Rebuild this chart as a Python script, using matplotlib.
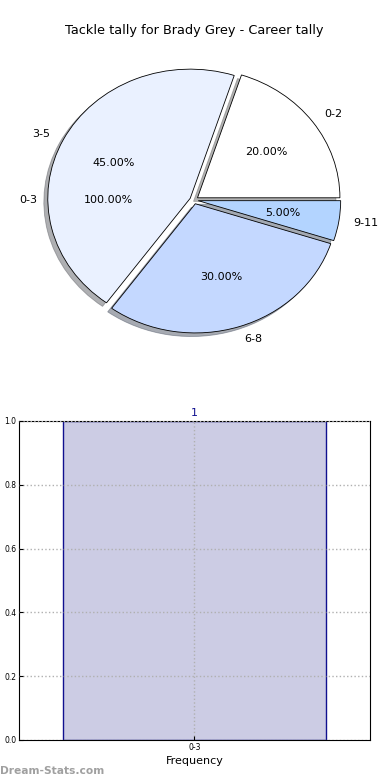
import matplotlib
matplotlib.use("Agg")
import matplotlib.pyplot as plt

# 円グラフ（通算タックル数の内訳）
pie_labels = ["0-2", "3-5", "6-8", "9-11"]
pie_values = [20, 45, 30, 5]
pie_colors = ["#ffffff", "#eaf1ff", "#c4d8ff", "#b3d4ff"]

# 重ねて描かれている単一スライスの円
overlay_labels = ["0-3"]
overlay_values = [1]

# 棒グラフ（頻度）
bar_labels = ["0-3"]
bar_values = [1]

title = "Tackle tally for Brady Grey - Career tally"

fig = plt.figure(figsize=(3.9, 7.8), dpi=100)

ax_pie = fig.add_axes([0.041, 0.5365, 0.913, 0.414])
ax_pie.pie(pie_values, labels=pie_labels, colors=pie_colors,
           explode=[0.03] * len(pie_values), autopct="%1.2f%%",
           shadow=dict(ox=-0.02, oy=-0.02, shade=0.6), startangle=0,
           wedgeprops=dict(edgecolor="black", linewidth=0.6),
           textprops=dict(fontsize=8))
ax_pie.pie(overlay_values, labels=overlay_labels, autopct="%1.2f%%",
           startangle=0, colors=["none"],
           wedgeprops=dict(edgecolor="none", linewidth=0),
           textprops=dict(fontsize=8))
ax_pie.set_aspect("auto")
ax_pie.set_xlim(-1.25, 1.25)
ax_pie.set_ylim(-1.25, 1.25)
ax_pie.set_title(title, fontsize=9.3, pad=3.5)

ax_bar = fig.add_axes([0.0487, 0.0513, 0.9, 0.409])
bars = ax_bar.bar(range(len(bar_values)), bar_values, width=0.75,
                  color="#ccccE4", edgecolor="#10108f", linewidth=1.0,
                  zorder=2)
for rect, v in zip(bars, bar_values):
    ax_bar.text(rect.get_x() + rect.get_width() / 2, rect.get_height() + 0.01,
                str(v), ha="center", va="bottom", color="#10108f", fontsize=8)
ax_bar.set_xlim(-0.5, len(bar_values) - 0.5)
ax_bar.set_ylim(0, 1)
ax_bar.set_xticks(range(len(bar_labels)))
ax_bar.set_xticklabels(bar_labels)
ax_bar.set_yticks([0.0, 0.2, 0.4, 0.6, 0.8, 1.0])
ax_bar.tick_params(labelsize=5.5, direction="in", length=3, pad=2)
ax_bar.grid(True, linestyle=":", color="#b0b0b0", linewidth=1.0, zorder=3)
ax_bar.set_axisbelow(False)
ax_bar.set_xlabel("Frequency", fontsize=8, labelpad=3)

fig.text(0.0, 0.005, "Dream-Stats.com", fontsize=7.7, color="#a0a0a0",
         fontweight="bold", ha="left", va="bottom")

fig.savefig("out.png", dpi=100)
